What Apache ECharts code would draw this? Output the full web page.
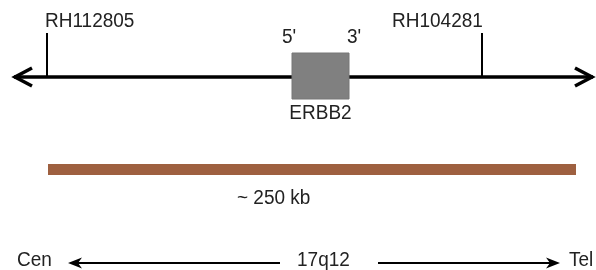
<!DOCTYPE html>
<html><head><meta charset="utf-8">
<script src="https://cdn.jsdelivr.net/npm/echarts@6/dist/echarts.min.js"></script>
<style>html,body{margin:0;padding:0;background:#fff}#c{width:596px;height:270px}</style>
</head><body><div id="c"></div>
<script>
// Map elements (positions along the map in the diagram's own units)
const markerNames = ['RH112805', 'RH104281'];
const markerPos = [47, 482];
const geneName = 'ERBB2';
const geneSpan = [292, 349];
const strandLabels = ["5'", "3'"];
const mapSpan = [14, 593];
const regionSpan = [48, 576];
const regionLabel = '~ 250 kb';
const orientLabels = ['Cen', '17q12', 'Tel'];
const orientArrows = [[68, 280], [378, 560]];

const FONT = '"Liberation Sans", Arial, sans-serif';
const TXT = '#222';
const MAP_Y = 77, TICK_TOP = 33, BOX_TOP = 53, BOX_BOT = 99;
const BAR_TOP = 164, BAR_BOT = 175, ORIENT_Y = 263;

function txt(p, s, align) {
  return { type: 'text', x: p[0], y: p[1], scaleY: 1.08,
    style: { x: 0, y: 0, text: s, fill: TXT, font: '19px ' + FONT, textAlign: align || 'left', textVerticalAlign: 'middle' } };
}

function renderItem(params, api) {
  const c = (x, y) => api.coord([x, y]);
  const ch = [];
  // main map line
  const a = c(mapSpan[0], MAP_Y), b = c(mapSpan[1], MAP_Y);
  ch.push({ type: 'line', shape: { x1: a[0], y1: a[1], x2: b[0], y2: b[1] }, style: { stroke: '#000', lineWidth: 3.5 } });
  ch.push({ type: 'polyline', shape: { points: [[a[0] + 18, a[1] - 9], [a[0] + 1, a[1]], [a[0] + 18, a[1] + 9]] }, style: { stroke: '#000', lineWidth: 3.5, fill: null } });
  ch.push({ type: 'polyline', shape: { points: [[b[0] - 18, b[1] - 9], [b[0] - 1, b[1]], [b[0] - 18, b[1] + 9]] }, style: { stroke: '#000', lineWidth: 3.5, fill: null } });
  // markers
  markerPos.forEach((x) => {
    const t = c(x, TICK_TOP), m = c(x, MAP_Y);
    ch.push({ type: 'line', shape: { x1: t[0], y1: t[1], x2: m[0], y2: m[1] }, style: { stroke: '#000', lineWidth: 2 } });
  });
  ch.push(txt(c(45, 21), markerNames[0]));
  ch.push(txt(c(392, 21), markerNames[1]));
  // gene box
  const g0 = c(geneSpan[0], BOX_TOP), g1 = c(geneSpan[1], BOX_BOT);
  ch.push({ type: 'rect', shape: { x: g0[0], y: g0[1], width: g1[0] - g0[0], height: g1[1] - g0[1] }, style: { fill: '#808080', stroke: '#777', lineWidth: 1 } });
  ch.push(txt(c(geneSpan[0] - 10, 37), strandLabels[0]));
  ch.push(txt(c(geneSpan[1] - 2, 37), strandLabels[1]));
  ch.push(txt(c((geneSpan[0] + geneSpan[1]) / 2, 113), geneName, 'center'));
  // region bar
  const r0 = c(regionSpan[0], BAR_TOP), r1 = c(regionSpan[1], BAR_BOT);
  ch.push({ type: 'rect', shape: { x: r0[0], y: r0[1], width: r1[0] - r0[0], height: r1[1] - r0[1] }, style: { fill: '#9e6040' } });
  ch.push(txt(c(237, 198), regionLabel));
  // orientation
  ch.push(txt(c(17, 260), orientLabels[0]));
  ch.push(txt(c(297, 260), orientLabels[1]));
  ch.push(txt(c(569, 260), orientLabels[2]));
  const l0 = c(orientArrows[0][0], ORIENT_Y), l1 = c(orientArrows[0][1], ORIENT_Y);
  ch.push({ type: 'line', shape: { x1: l0[0] + 6, y1: l0[1], x2: l1[0], y2: l1[1] }, style: { stroke: '#000', lineWidth: 2 } });
  ch.push({ type: 'polygon', shape: { points: [[l0[0], l0[1]], [l0[0] + 14, l0[1] - 5.5], [l0[0] + 10, l0[1]], [l0[0] + 14, l0[1] + 5.5]] }, style: { fill: '#000' } });
  const q0 = c(orientArrows[1][0], ORIENT_Y), q1 = c(orientArrows[1][1], ORIENT_Y);
  ch.push({ type: 'line', shape: { x1: q0[0], y1: q0[1], x2: q1[0] - 6, y2: q1[1] }, style: { stroke: '#000', lineWidth: 2 } });
  ch.push({ type: 'polygon', shape: { points: [[q1[0], q1[1]], [q1[0] - 14, q1[1] - 5.5], [q1[0] - 10, q1[1]], [q1[0] - 14, q1[1] + 5.5]] }, style: { fill: '#000' } });
  return { type: 'group', children: ch };
}

const chart = echarts.init(document.getElementById('c'), null, { renderer: 'canvas' });
chart.setOption({
  animation: false,
  backgroundColor: '#fff',
  grid: { left: 0, right: 0, top: 0, bottom: 0 },
  xAxis: { type: 'value', min: 0, max: 596, show: false },
  yAxis: { type: 'value', min: 0, max: 270, inverse: true, show: false },
  series: [{ type: 'custom', renderItem: renderItem, data: [[0, 0]], silent: true }]
});
</script></body></html>
